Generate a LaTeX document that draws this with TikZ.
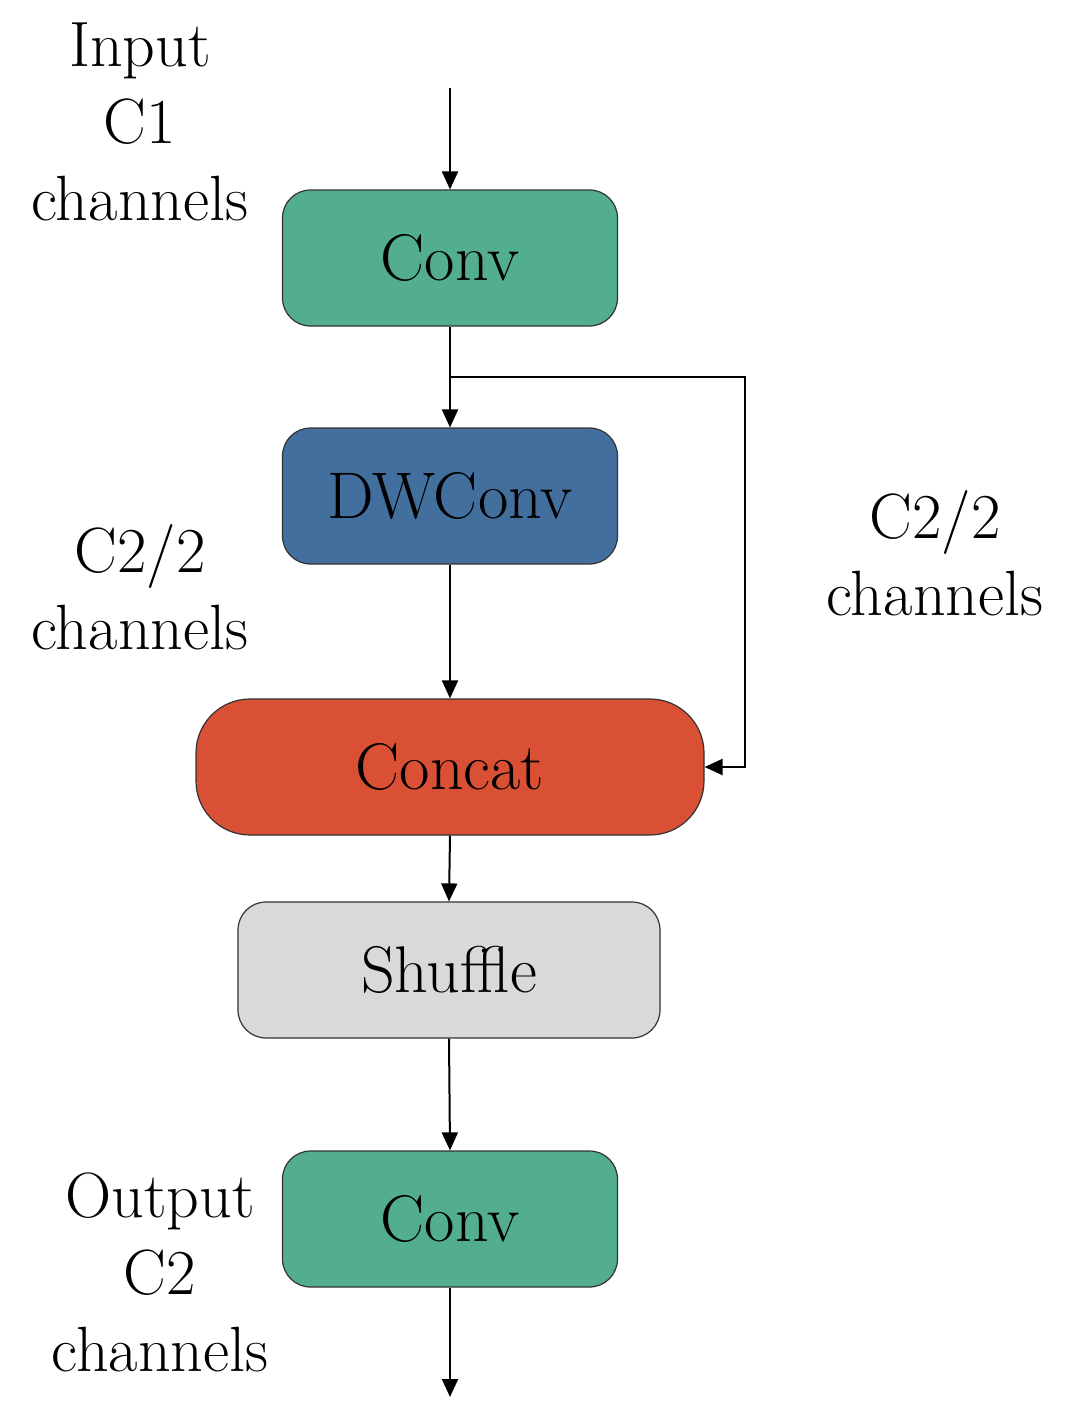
\documentclass[tikz,border=0pt]{standalone}
\usetikzlibrary{arrows.meta}
\definecolor{cgreen}{HTML}{52AD91}
\definecolor{cblue}{HTML}{436F9E}
\definecolor{cred}{HTML}{D95034}
\definecolor{cgray}{HTML}{D9D9D9}
\begin{document}
\begin{tikzpicture}[x=0.5pt,y=-0.5pt,
  box/.style={draw=black!80,line width=0.6pt,rounded corners=14pt,minimum height=68pt,font=\fontsize{33}{38}\selectfont},
  lab/.style={align=center,font=\fontsize{32}{38.5}\selectfont},
  arr/.style={-{Triangle[length=9pt,width=8pt]},line width=1pt}]
\useasboundingbox (0,0) rectangle (1069,1414);
\node[box,fill=cgreen,minimum width=167.5pt] (c1) at (450,258) {Conv};
\node[box,fill=cblue,minimum width=167.5pt] (dw) at (450,496) {DWConv};
\node[box,fill=cred,minimum width=254pt,rounded corners=27pt] (cc) at (450,767) {Concat};
\node[box,fill=cgray,minimum width=211pt] (sh) at (449,970) {Shuffle};
\node[box,fill=cgreen,minimum width=167.5pt] (c2) at (450,1219) {Conv};
\coordinate (in) at (450,88);
\coordinate (out) at (450,1397);
\coordinate (br) at (450,377);
\coordinate (brr) at (745,377);
\draw[arr] (in) -- (c1.north);
\draw[arr] (c1.south) -- (dw.north);
\draw[arr] (dw.south) -- (cc.north);
\draw[arr] (cc.south) -- (sh.north);
\draw[arr] (sh.south) -- (c2.north);
\draw[arr] (c2.south) -- (out);
\draw[arr] (br) -- (brr) |- (cc.east);
\node[lab] (l1) at (140,122) {Input\\C1\\channels};
\node[lab] (l2) at (140,587) {C2/2\\channels};
\node[lab] (l3) at (935,553) {C2/2\\channels};
\node[lab] (l4) at (160,1272) {Output\\C2\\channels};
\end{tikzpicture}
\end{document}
